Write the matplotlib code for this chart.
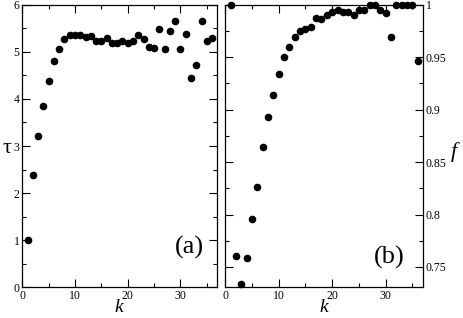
import matplotlib
matplotlib.use("Agg")
import matplotlib.pyplot as plt
from matplotlib.ticker import MultipleLocator, FuncFormatter

plt.rcParams['font.family'] = ['Liberation Serif', 'DejaVu Serif']
plt.rcParams['mathtext.fontset'] = 'custom'
plt.rcParams['mathtext.it'] = 'Liberation Serif:italic'

k = list(range(1, 37))
tau = [1.0, 2.39, 3.21, 3.86, 4.37, 4.80, 5.06, 5.27, 5.35, 5.35, 5.35, 5.32,
       5.33, 5.22, 5.23, 5.29, 5.19, 5.18, 5.22, 5.19, 5.24, 5.35, 5.27, 5.11,
       5.08, 5.48, 5.05, 5.45, 5.66, 5.05, 5.38, 4.45, 4.72, 5.65, 5.23, 5.30]
f = [1.0, 0.760, 0.734, 0.759, 0.796, 0.826, 0.864, 0.893, 0.914, 0.934, 0.950,
     0.960, 0.969, 0.975, 0.977, 0.979, 0.987, 0.986, 0.990, 0.993, 0.995,
     0.993, 0.993, 0.990, 0.995, 0.995, 1.0, 1.0, 0.995, 0.992, 0.969, 1.0,
     1.0, 1.0, 1.0, 0.946]

fig = plt.figure(figsize=(4.63, 3.18), dpi=100)
ax1 = fig.add_axes([0.0482, 0.0965, 0.4212, 0.8887])
ax2 = fig.add_axes([0.4866, 0.0965, 0.4270, 0.8887])


def style(ax):
    ax.tick_params(which='both', direction='in', top=True, right=True,
                   labelsize=8.5, pad=2)
    ax.tick_params(which='major', length=5.5, width=0.8)
    ax.tick_params(which='minor', length=3, width=0.8)
    ax.xaxis.set_major_locator(MultipleLocator(10))
    ax.xaxis.set_minor_locator(MultipleLocator(5))
    ax.set_xlim(0, 37)
    for s in ax.spines.values():
        s.set_linewidth(0.9)
    ax.set_xlabel('$k$', fontsize=14, labelpad=-2)


ax1.scatter(k, tau, s=20, color='black', zorder=3, clip_on=False)
style(ax1)
ax1.set_ylim(0, 6)
ax1.yaxis.set_major_locator(MultipleLocator(1))
ax1.yaxis.set_minor_locator(MultipleLocator(0.5))
ax1.set_ylabel('τ', fontsize=16, rotation=0, va='center', ha='center')
ax1.yaxis.set_label_coords(-0.078, 0.49)
ax1.text(0.855, 0.14, '(a)', transform=ax1.transAxes, fontsize=19,
         ha='center', va='center')

ax2.scatter(k, f, s=20, color='black', zorder=3, clip_on=False)
style(ax2)
ax2.set_ylim(0.7306, 1.0)
ax2.yaxis.set_major_locator(MultipleLocator(0.05))
ax2.yaxis.set_minor_locator(MultipleLocator(0.025))
ax2.yaxis.set_major_formatter(FuncFormatter(lambda v, p: '%g' % round(v, 3)))
ax2.tick_params(axis='y', labelleft=False, labelright=True)
ax2.yaxis.set_label_position('right')
ax2.set_ylabel('$f$', fontsize=16, rotation=0, va='center', ha='center')
ax2.yaxis.set_label_coords(1.165, 0.48)
ax2.text(0.83, 0.105, '(b)', transform=ax2.transAxes, fontsize=19,
         ha='center', va='center')

fig.savefig('out.png', dpi=100)
